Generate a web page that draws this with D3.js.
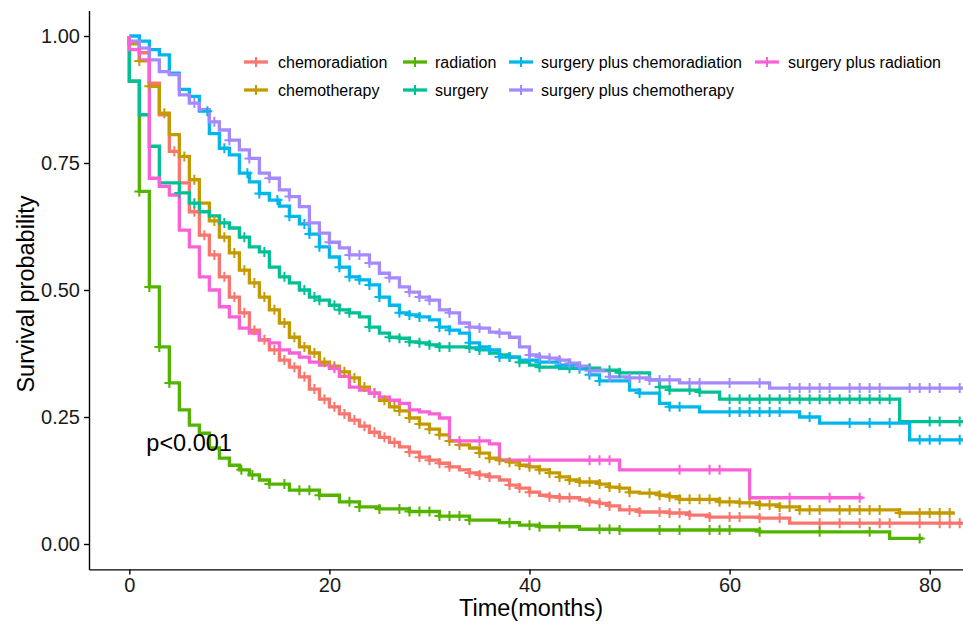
<!DOCTYPE html>
<html>
<head>
<meta charset="utf-8">
<script src="https://cdn.jsdelivr.net/npm/d3@7"></script>
<style>
  body { margin: 0; background: #fff; }
  svg { display: block; }
  text { font-family: "Liberation Sans", Arial, Helvetica, sans-serif; }
</style>
</head>
<body>
<svg id="chart" width="963" height="624"></svg>
<script>
// Treatment groups and their hue-palette colours
const categories = [
  "chemoradiation", "chemotherapy", "radiation", "surgery",
  "surgery plus chemoradiation", "surgery plus chemotherapy", "surgery plus radiation"
];
const colors = ["#F8766D", "#C49A00", "#53B400", "#00C094", "#00B6EB", "#A58AFF", "#FB61D7"];

// Kaplan-Meier steps: [month, survival after the event]
const survChemoradiation = [[0,0.985],[1,0.967],[2,0.907],[3,0.845],[4,0.773],[5,0.711],[6,0.654],[7,0.608],[8,0.569],[9,0.526],[10,0.486],[11,0.455],[12,0.421],[13,0.402],[14,0.382],[15,0.362],[16,0.348],[17,0.329],[18,0.305],[19,0.285],[20,0.270],[21,0.256],[22,0.244],[23,0.232],[24,0.220],[25,0.210],[26,0.200],[27,0.191],[28,0.181],[29,0.171],[30,0.165],[31,0.159],[32,0.152],[33,0.146],[34,0.140],[35,0.136],[36,0.132],[37,0.126],[38,0.116],[39,0.110],[40,0.102],[41,0.096],[42,0.093],[43,0.091],[45,0.087],[46,0.083],[47,0.080],[48,0.075],[49,0.067],[51,0.063],[54,0.061],[56,0.057],[58,0.053],[63,0.051],[66,0.041]];
const survChemotherapy = [[0,0.985],[1,0.951],[2,0.901],[3,0.848],[4,0.806],[5,0.763],[6,0.717],[7,0.671],[8,0.636],[9,0.604],[10,0.573],[11,0.539],[12,0.514],[13,0.486],[14,0.461],[15,0.435],[16,0.407],[17,0.388],[18,0.376],[19,0.358],[20,0.350],[21,0.339],[22,0.327],[23,0.309],[24,0.297],[25,0.283],[26,0.270],[27,0.262],[28,0.248],[29,0.236],[30,0.226],[31,0.215],[32,0.203],[33,0.195],[34,0.189],[35,0.179],[36,0.169],[37,0.165],[38,0.161],[39,0.155],[40,0.152],[41,0.146],[42,0.140],[43,0.132],[44,0.126],[45,0.122],[47,0.118],[48,0.112],[49,0.110],[50,0.102],[51,0.100],[53,0.096],[54,0.093],[55,0.088],[59,0.083],[61,0.081],[63,0.077],[65,0.073],[67,0.067],[77,0.061]];
const survRadiation = [[0,0.911],[1,0.694],[2,0.506],[3,0.388],[4,0.317],[5,0.264],[6,0.234],[7,0.218],[8,0.189],[9,0.169],[10,0.155],[11,0.146],[12,0.136],[13,0.126],[14,0.118],[16,0.106],[19,0.096],[21,0.083],[23,0.073],[25,0.069],[28,0.064],[31,0.055],[34,0.047],[37,0.042],[39,0.037],[41,0.034],[45,0.029],[49,0.0276],[63,0.024],[76,0.011]];
const survSurgery = [[0,0.911],[1,0.845],[2,0.783],[3,0.711],[5,0.691],[6,0.671],[7,0.654],[8,0.646],[9,0.632],[10,0.622],[11,0.604],[12,0.585],[13,0.575],[14,0.545],[15,0.526],[16,0.514],[17,0.500],[18,0.486],[19,0.480],[20,0.470],[21,0.461],[22,0.455],[23,0.447],[24,0.427],[25,0.415],[26,0.407],[27,0.405],[28,0.398],[29,0.396],[30,0.392],[31,0.388],[34,0.386],[35,0.382],[36,0.376],[37,0.372],[38,0.368],[39,0.358],[40,0.352],[41,0.348],[43,0.346],[47,0.342],[49,0.337],[52,0.323],[53,0.309],[54,0.303],[57,0.299],[59,0.285],[77,0.241]];
const survSurgeryChemoradiation = [[1,0.990],[2,0.973],[3,0.963],[4,0.927],[5,0.895],[6,0.881],[7,0.852],[8,0.808],[9,0.779],[10,0.766],[11,0.730],[12,0.713],[13,0.690],[14,0.677],[15,0.665],[16,0.645],[17,0.630],[18,0.610],[19,0.585],[20,0.565],[21,0.545],[22,0.526],[23,0.520],[24,0.510],[25,0.486],[26,0.470],[27,0.455],[28,0.451],[29,0.447],[30,0.441],[31,0.427],[32,0.421],[33,0.415],[34,0.396],[35,0.388],[36,0.382],[37,0.368],[39,0.362],[41,0.358],[43,0.352],[45,0.345],[46,0.333],[47,0.321],[50,0.303],[51,0.297],[53,0.277],[54,0.270],[57,0.260],[67,0.250],[69,0.238],[78,0.205]];
const survSurgeryChemotherapy = [[0,0.990],[1,0.976],[2,0.953],[3,0.930],[4,0.924],[5,0.884],[6,0.868],[7,0.855],[8,0.831],[9,0.815],[10,0.795],[11,0.776],[12,0.759],[13,0.730],[14,0.720],[15,0.697],[16,0.684],[17,0.664],[18,0.632],[19,0.612],[20,0.594],[21,0.583],[22,0.569],[24,0.553],[25,0.533],[26,0.524],[27,0.506],[28,0.496],[29,0.486],[30,0.480],[31,0.461],[32,0.455],[33,0.435],[34,0.427],[35,0.425],[36,0.417],[37,0.415],[38,0.407],[39,0.388],[40,0.372],[41,0.368],[42,0.366],[43,0.362],[44,0.356],[45,0.350],[46,0.341],[48,0.329],[50,0.327],[52,0.323],[55,0.317],[64,0.307]];
const survSurgeryRadiation = [[0,0.973],[1,0.953],[2,0.720],[3,0.704],[4,0.687],[5,0.618],[6,0.585],[7,0.526],[8,0.500],[9,0.467],[10,0.447],[11,0.425],[12,0.415],[13,0.402],[14,0.396],[15,0.382],[16,0.376],[17,0.368],[18,0.358],[19,0.352],[20,0.346],[21,0.330],[22,0.309],[23,0.303],[24,0.297],[25,0.289],[26,0.283],[27,0.277],[28,0.264],[29,0.260],[30,0.256],[31,0.248],[32,0.203],[36,0.197],[37,0.165],[49,0.146],[62,0.091]];

// Censoring times (months)
const censorChemoradiation = [4.5,6.5,7.5,8.5,9.5,10.5,11.5,12.5,13.5,14.5,15.5,16.5,17.5,18.5,19.5,20.5,21.5,22.5,23.5,24.5,25.5,26.5,28,29,30,31,32,34,35,36,38,39,40,42,43,44,46,47,48,50,51,53,54,55,56,58,60,61,63,65,69,71,73,75,76,79,81,82,83];
const censorChemotherapy = [1,2,3.5,5.5,6.5,8.5,9.5,10.5,11.5,12.5,13.5,14.5,15.5,16.5,17.5,18.5,19.5,20.5,21.5,22.5,23.5,24.5,25.5,26.5,27,28,29,30,31,32,33,35,36,37,38,39,40,41,42,43,44,45,46,47,48,49,50,52,53,54,55,56,57,58,59,60,61,62,63,64,65,66,67,68,69,71,72,73,74,75,77,79,80,81,82];
const censorRadiation = [1,2,3,4,11.2,12.3,14,15.5,17,18,19,22,23,25,27,28,29,30,31,32,33,34,38,40,41,43,47,48,49,53,55,58,59,60,63,69,74,79];
const censorSurgery = [5,6.5,9.5,11.5,13.5,15.5,17.5,18.5,19,20.5,21,22,24,26,27,28,29,30,31,32,34,35,38,39,41,44,46,48,49,53,54,56,57,60,61,62,63,64,65,66,67,68,69,70,71,72,73,74,75,76,80,81,83];
const censorSurgeryChemoradiation = [7.8,9.5,11.8,13,14.8,16,17.5,18,19,21,22,23,24,25,27,28,29,31,32,34,35,36,37,38,40,41,43,44,45,46,47,51,54,55,60,61,62,63,64,65,68,72,74,76,79,80,81,83];
const censorSurgeryChemotherapy = [6.5,8.5,10,12,14,16,18,20,22,23,24,26,28,29,30,32,34,35,37,40,41,42,43,44,45,46,48,50,51,52,53,54,56,57,60,63,66,67,68,69,70,72,73,74,75,78,79,80,81,83];
const censorSurgeryRadiation = [20.5,24.5,33,35,40,46,47,48,55,58,59,66,70,73];

// Last follow-up time of each group
const lastTime = [83.5, 82.5, 79.3, 83.5, 83.5, 83.5, 73.3];

// Axis ticks
const xTicks = [0, 20, 40, 60, 80];
const yTicks = [0, 0.25, 0.5, 0.75, 1];
const pValueText = "p<0.001";

const survData = [survChemoradiation, survChemotherapy, survRadiation, survSurgery,
  survSurgeryChemoradiation, survSurgeryChemotherapy, survSurgeryRadiation];
const censorData = [censorChemoradiation, censorChemotherapy, censorRadiation, censorSurgery,
  censorSurgeryChemoradiation, censorSurgeryChemotherapy, censorSurgeryRadiation];

const svg = d3.select("#chart");
const W = 963, H = 624;
const panel = { left: 89, right: 963, top: 10.6, bottom: 569.4 };

svg.append("rect").attr("width", W).attr("height", H).attr("fill", "#fff");

const x = d3.scaleLinear().domain([-4.03, 83.33]).range([panel.left, panel.right]);
const y = d3.scaleLinear().domain([-0.05, 1.05]).range([panel.bottom, panel.top]);

svg.append("clipPath").attr("id", "panelClip")
  .append("rect")
  .attr("x", panel.left).attr("y", 0)
  .attr("width", panel.right - panel.left).attr("height", panel.bottom);

const series = categories.map((name, i) => {
  const steps = survData[i];
  const pts = [[0, 1], ...steps, [lastTime[i], steps[steps.length - 1][1]]];
  const survAt = t => {
    let s = 1;
    for (const [tt, v] of steps) { if (tt <= t) s = v; else break; }
    return s;
  };
  return {
    name, color: colors[i], pts,
    censor: censorData[i].map(t => [t, survAt(t)])
  };
});

const plot = svg.append("g").attr("clip-path", "url(#panelClip)");

const line = d3.line()
  .x(d => x(d[0])).y(d => y(d[1]))
  .curve(d3.curveStepAfter);

plot.selectAll("path.km")
  .data(series)
  .join("path")
  .attr("class", "km")
  .attr("d", d => line(d.pts))
  .attr("fill", "none")
  .attr("stroke", d => d.color)
  .attr("stroke-width", 3.3)
  .attr("stroke-linejoin", "miter");

// censoring "+" marks
const markHalf = 5;
const marks = plot.selectAll("g.censor")
  .data(series)
  .join("g")
  .attr("class", "censor")
  .attr("stroke", d => d.color)
  .attr("stroke-width", 2);

marks.selectAll("path")
  .data(d => d.censor)
  .join("path")
  .attr("d", d => {
    const cx = x(d[0]), cy = y(d[1]);
    return `M${cx - markHalf},${cy}H${cx + markHalf}M${cx},${cy - markHalf}V${cy + markHalf}`;
  });

// axes
const xAxis = svg.append("g")
  .attr("transform", `translate(0,${panel.bottom})`)
  .call(d3.axisBottom(x).tickValues(xTicks).tickFormat(d3.format("d")).tickSize(5).tickPadding(3).tickSizeOuter(0));
const yAxis = svg.append("g")
  .attr("transform", `translate(${panel.left},0)`)
  .call(d3.axisLeft(y).tickValues(yTicks).tickFormat(d3.format(".2f")).tickSize(5).tickPadding(4).tickSizeOuter(0));

[xAxis, yAxis].forEach(a => {
  a.select(".domain").attr("stroke", "#000").attr("stroke-width", 1.4);
  a.selectAll(".tick line").attr("stroke", "#000").attr("stroke-width", 1.4);
  a.selectAll(".tick text")
    .attr("fill", "#1a1a1a")
    .style("font-size", "20px")
    .style("font-family", "'Liberation Sans', Arial, sans-serif");
});

// axis titles
svg.append("text")
  .attr("x", 531).attr("y", 616)
  .attr("text-anchor", "middle")
  .style("font-size", "23.5px")
  .attr("fill", "#000")
  .text("Time(months)");

svg.append("text")
  .attr("transform", "translate(34,294) rotate(-90)")
  .attr("text-anchor", "middle")
  .style("font-size", "23.5px")
  .attr("fill", "#000")
  .text("Survival probability");

// log-rank p value
svg.append("text")
  .attr("x", x(1.7)).attr("y", y(0.2))
  .attr("dy", "0.35em")
  .style("font-size", "23.5px")
  .attr("fill", "#000")
  .text(pValueText);

// legend, filled column by column in two rows
const legendKeyX = [256, 415, 521, 767];
const legendTextX = [278, 435, 541, 788];
const legendRowY = [62, 90];
const legend = svg.append("g");
series.forEach((s, i) => {
  const col = Math.floor(i / 2), row = i % 2;
  const kx = legendKeyX[col], ky = legendRowY[row];
  const g = legend.append("g");
  g.append("line")
    .attr("x1", kx - 12).attr("x2", kx + 12).attr("y1", ky).attr("y2", ky)
    .attr("stroke", s.color).attr("stroke-width", 3.3);
  g.append("line")
    .attr("x1", kx).attr("x2", kx).attr("y1", ky - 5).attr("y2", ky + 5)
    .attr("stroke", s.color).attr("stroke-width", 2);
  g.append("text")
    .attr("x", legendTextX[col]).attr("y", ky)
    .attr("dy", "0.35em")
    .style("font-size", "16px")
    .attr("fill", "#000")
    .text(s.name);
});
</script>
</body>
</html>
